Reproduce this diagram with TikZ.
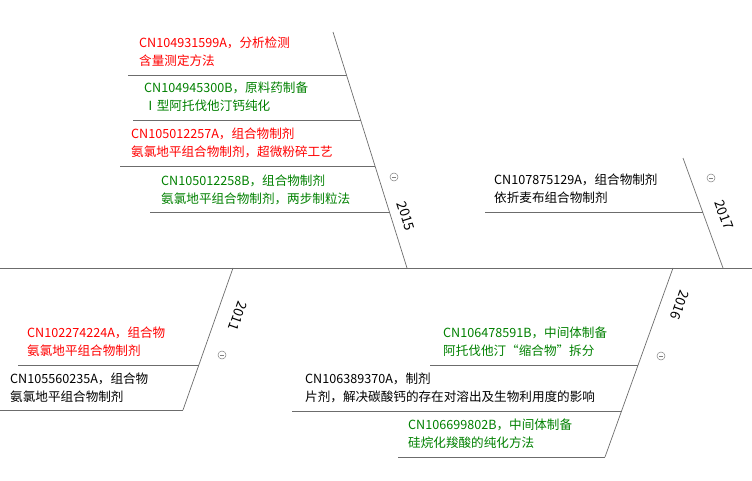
\documentclass[tikz,border=0pt]{standalone}
\usepackage{fontspec}
\setmainfont{Noto Sans CJK SC}
\begin{document}
\begin{tikzpicture}[x=1pt,y=-1pt,
  bone/.style={draw=gray!85!black,line width=0.7pt},
  lbl/.style={anchor=north west,inner sep=0,align=left,font=\fontsize{12.6}{18}\selectfont},
  yr/.style={inner sep=0,font=\fontsize{13.5}{15}\selectfont},
  coll/.style={circle,draw=gray,line width=0.5pt,minimum size=8pt,inner sep=0,path picture={\draw[gray,line width=0.5pt] ([xshift=-2pt]path picture bounding box.center)--([xshift=2pt]path picture bounding box.center);}}]
\useasboundingbox (0,0) rectangle (752,481);
\definecolor{gr}{RGB}{0,128,0}
% spine
\coordinate (s0) at (0,268); \coordinate (s1) at (752,268);
\draw[bone] (s0)--(s1);
% 2015
\coordinate (a0) at (333,32); \coordinate (a1) at (407,268);
\draw[bone] (a0)--(a1);
\coordinate (a2) at (346.5,75); \coordinate (a2l) at (128,75);
\coordinate (a3) at (360.5,120); \coordinate (a3l) at (133,120);
\coordinate (a4) at (375,166); \coordinate (a4l) at (120,166);
\coordinate (a5) at (389.5,212); \coordinate (a5l) at (150,212);
\draw[bone] (a2l)--(a2) (a3l)--(a3) (a4l)--(a4) (a5l)--(a5);
\node[lbl,text=red] (t1) at (139,37) {CN104931599A，分析检测\\含量测定方法};
\node[lbl,text=gr] (t2) at (144,82) {CN104945300B，原料药制备\\Ⅰ型阿托伐他汀钙纯化};
\node[lbl,text=red] (t3) at (131,128) {CN105012257A，组合物制剂\\氨氯地平组合物制剂，超微粉碎工艺};
\node[lbl,text=gr] (t4) at (161,175) {CN105012258B，组合物制剂\\氨氯地平组合物制剂，两步制粒法};
\node[coll] (c1) at (394,177) {};
\node[yr,rotate=-72.6] (y1) at (406,216) {2015};
% 2017
\coordinate (b0) at (683,158); \coordinate (b1) at (723,268);
\draw[bone] (b0)--(b1);
\coordinate (b2) at (703,212); \coordinate (b2l) at (485,212);
\draw[bone] (b2l)--(b2);
\node[lbl] (t5) at (494,174) {CN107875129A，组合物制剂\\依折麦布组合物制剂};
\node[coll] (c2) at (711,178) {};
\node[yr,rotate=-70] (y2) at (724,215) {2017};
% 2011
\coordinate (d0) at (233,268); \coordinate (d1) at (183,410);
\draw[bone] (d0)--(d1);
\coordinate (d2) at (199,365); \coordinate (d2l) at (18,365);
\coordinate (d3l) at (0,410);
\draw[bone] (d2l)--(d2) (d3l)--(d1);
\node[lbl,text=red] (t6) at (27,327) {CN102274224A，组合物\\氨氯地平组合物制剂};
\node[lbl] (t7) at (10,373) {CN105560235A，组合物\\氨氯地平组合物制剂};
\node[coll] (c3) at (222,355) {};
\node[yr,rotate=-109.4] (y3) at (238,316) {2011};
% 2016
\coordinate (e0) at (673,268); \coordinate (e1) at (605,457);
\draw[bone] (e0)--(e1);
\coordinate (e2) at (638,365); \coordinate (e2l) at (430,365);
\coordinate (e3) at (622,411); \coordinate (e3l) at (292,411);
\coordinate (e4l) at (398,457);
\draw[bone] (e2l)--(e2) (e3l)--(e3) (e4l)--(e1);
\node[lbl,text=gr] (t8) at (443,327) {CN106478591B，中间体制备\\阿托伐他汀“缩合物”拆分};
\node[lbl] (t9) at (305,373) {CN106389370A，制剂\\片剂，解决碳酸钙的存在对溶出及生物利用度的影响};
\node[lbl,text=gr] (t10) at (408,419) {CN106699802B，中间体制备\\硅烷化羧酸的纯化方法};
\node[coll] (c4) at (661,356) {};
\node[yr,rotate=-109.4] (y4) at (680,305) {2016};
\end{tikzpicture}
\end{document}
